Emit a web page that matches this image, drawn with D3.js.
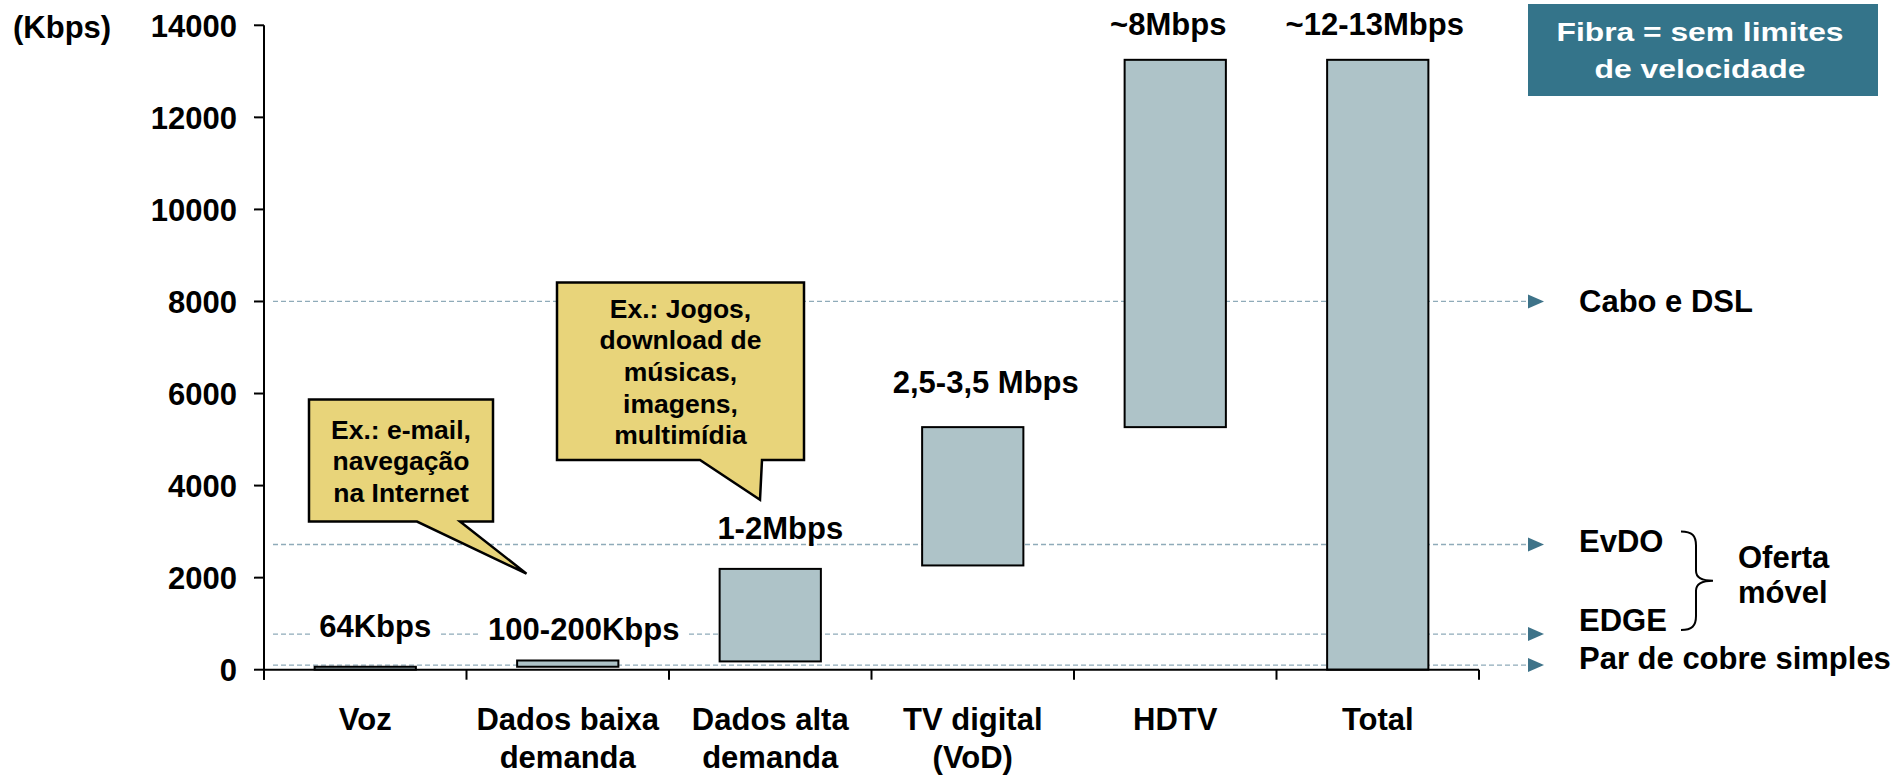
<!DOCTYPE html>
<html>
<head>
<meta charset="utf-8">
<script src="https://cdn.jsdelivr.net/npm/d3@7"></script>
<style>
  html, body { margin: 0; padding: 0; background: #fff; }
  svg { display: block; font-family: "Liberation Sans", Arial, Helvetica, sans-serif; font-weight: bold; }
</style>
</head>
<body>
<svg id="chart" width="1904" height="777"></svg>
<script>
// ---------- data ----------
const categories = ["Voz", "Dados baixa demanda", "Dados alta demanda", "TV digital (VoD)", "HDTV", "Total"];
const categoryLines = [["Voz"], ["Dados baixa", "demanda"], ["Dados alta", "demanda"], ["TV digital", "(VoD)"], ["HDTV"], ["Total"]];
const barStart = [0, 64, 180, 2265, 5270, 0];
const barEnd = [64, 200, 2190, 5270, 13250, 13250];
const valueLabels = ["64Kbps", "100-200Kbps", "1-2Mbps", "2,5-3,5 Mbps", "~8Mbps", "~12-13Mbps"];
const yTicks = [0, 2000, 4000, 6000, 8000, 10000, 12000, 14000];
const refValues = [8000, 2720, 775, 100];
const refLabels = ["Cabo e DSL", "EvDO", "EDGE", "Par de cobre simples"];
const callout1 = ["Ex.: e-mail,", "navegação", "na Internet"];
const callout2 = ["Ex.: Jogos,", "download de", "músicas,", "imagens,", "multimídia"];
const fibraLines = ["Fibra = sem limites", "de velocidade"];
const yUnit = "(Kbps)";
const braceLabel = ["Oferta", "móvel"];

// ---------- layout ----------
const svg = d3.select("#chart");
const x = d3.scaleBand().domain(categories).range([264, 1479]).padding(0);
const y = d3.scaleLinear().domain([0, 14000]).range([669.7, 25.3]);
const bw = x.bandwidth();
const FS = 31;
const barFill = "#aec3c8";
const dashColor = "#8fabb9";
const arrowColor = "#3e7389";

// reference dashed lines with arrows
const refG = svg.append("g");
const lineStart = 273, lineEnd = 1528;
refG.selectAll("line").data(refValues).join("line")
  .attr("x1", lineStart).attr("x2", lineEnd)
  .attr("y1", d => y(d)).attr("y2", d => y(d))
  .attr("stroke", dashColor).attr("stroke-width", 1.3)
  .attr("stroke-dasharray", "5,3");
refG.selectAll("path").data(refValues).join("path")
  .attr("d", d => `M${lineEnd},${y(d) - 7} L${lineEnd + 16},${y(d)} L${lineEnd},${y(d) + 7} Z`)
  .attr("fill", arrowColor);
const refDy = [11, 7, -3, 4];
refG.selectAll("text").data(refLabels).join("text")
  .attr("x", 1579)
  .attr("y", (d, i) => y(refValues[i]) + refDy[i])
  .attr("font-size", FS).attr("fill", "#000")
  .text(d => d);

// brace
const bTop = y(refValues[1]) - 13, bBot = y(refValues[2]) - 4, bMid = (bTop + bBot) / 2;
svg.append("path")
  .attr("d", `M1681,${bTop} C1692,${bTop} 1696,${bTop + 4} 1696,${bTop + 14} L1696,${bMid - 10} C1696,${bMid - 3} 1702,${bMid} 1713,${bMid} C1702,${bMid} 1696,${bMid + 3} 1696,${bMid + 10} L1696,${bBot - 14} C1696,${bBot - 4} 1692,${bBot} 1681,${bBot}`)
  .attr("fill", "none").attr("stroke", "#000").attr("stroke-width", 2);
svg.append("g").selectAll("text").data(braceLabel).join("text")
  .attr("x", 1738).attr("y", (d, i) => 568 + i * 35)
  .attr("font-size", FS).text(d => d);

// value labels (with white backgrounds where they cross lines)
const labelShift = [10, 16, 10, 13, -7, -3];
const labelAbove = [30, 20, 30, 34, 25, 25];
const labG = svg.append("g");
valueLabels.forEach((t, i) => {
  const cx = x(categories[i]) + bw / 2 + labelShift[i];
  const by = y(barEnd[i]) - labelAbove[i];
  const txt = labG.append("text")
    .attr("x", cx).attr("y", by)
    .attr("text-anchor", "middle").attr("font-size", FS).text(t);
  if (i < 2) {
    const bb = txt.node().getBBox();
    labG.insert("rect", "text")
      .attr("x", bb.x - 9).attr("y", bb.y - 2)
      .attr("width", bb.width + 18).attr("height", bb.height + 4)
      .attr("fill", "#fff");
  }
});

// bars
svg.append("g").selectAll("rect").data(categories).join("rect")
  .attr("x", d => x(d) + bw * 0.25)
  .attr("width", bw * 0.5)
  .attr("y", (d, i) => y(barEnd[i]))
  .attr("height", (d, i) => y(barStart[i]) - y(barEnd[i]))
  .attr("fill", barFill).attr("stroke", "#000").attr("stroke-width", 2);

// y axis
const yAxisG = svg.append("g");
yAxisG.append("line").attr("x1", 264).attr("x2", 264)
  .attr("y1", y(14000)).attr("y2", y(0) + 10)
  .attr("stroke", "#000").attr("stroke-width", 2);
yAxisG.selectAll(".tk").data(yTicks).join("line").attr("class", "tk")
  .attr("x1", 254).attr("x2", 264)
  .attr("y1", d => y(d)).attr("y2", d => y(d))
  .attr("stroke", "#000").attr("stroke-width", 2);
yAxisG.selectAll("text").data(yTicks).join("text")
  .attr("x", 237).attr("y", d => y(d) + 11.5)
  .attr("text-anchor", "end").attr("font-size", FS)
  .text(d => d);
svg.append("text").attr("x", 13).attr("y", 37.5).attr("font-size", FS).text(yUnit);

// x axis
const xAxisG = svg.append("g");
xAxisG.append("line").attr("x1", 264).attr("x2", 1479)
  .attr("y1", y(0)).attr("y2", y(0))
  .attr("stroke", "#000").attr("stroke-width", 2);
const bounds = categories.map(c => x(c)).concat([x.range()[1]]);
xAxisG.selectAll(".tk").data(bounds).join("line").attr("class", "tk")
  .attr("x1", d => d).attr("x2", d => d)
  .attr("y1", y(0)).attr("y2", y(0) + 10)
  .attr("stroke", "#000").attr("stroke-width", 2);
categoryLines.forEach((lines, i) => {
  const t = xAxisG.append("text")
    .attr("x", x(categories[i]) + bw / 2).attr("y", 729.5)
    .attr("text-anchor", "middle").attr("font-size", FS);
  lines.forEach((l, j) => {
    t.append("tspan").attr("x", x(categories[i]) + bw / 2)
      .attr("y", 729.5 + j * 38.5).text(l);
  });
});

// callouts
function callout(box, tail, lines, fs, lh, firstBase) {
  const [x0, y0, x1, y1] = box;
  const [ta, tb, tx, ty] = tail;
  const g = svg.append("g");
  g.append("path")
    .attr("d", `M${x0},${y0} L${x1},${y0} L${x1},${y1} L${tb},${y1} L${tx},${ty} L${ta},${y1} L${x0},${y1} Z`)
    .attr("fill", "#e8d47a").attr("stroke", "#000").attr("stroke-width", 2.5)
    .attr("stroke-linejoin", "miter");
  g.selectAll("text").data(lines).join("text")
    .attr("x", (x0 + x1) / 2).attr("y", (d, i) => firstBase + i * lh)
    .attr("text-anchor", "middle").attr("font-size", fs)
    .text(d => d);
}
const c1x = x(categories[0]);
callout([c1x + 45, 399.5, c1x + 229, 521.5], [c1x + 153, c1x + 196, x(categories[1]) + 60, y(2085)], callout1, 26.5, 31.7, 438.5);
const c2x = x(categories[2]);
callout([c2x - 112, 282.5, c2x + 135, 460], [c2x + 31, c2x + 93, c2x + 91, y(3690)], callout2, 26.5, 31.7, 317.5);

// fibra box
const fg = svg.append("g");
fg.append("rect").attr("x", 1528).attr("y", 4).attr("width", 350).attr("height", 92)
  .attr("fill", "#34748a");
const fibraW = [287, 211];
fg.selectAll("text").data(fibraLines).join("text")
  .attr("x", 1700).attr("y", (d, i) => 40.5 + i * 37)
  .attr("text-anchor", "middle").attr("font-size", 25.5).attr("fill", "#fff")
  .attr("textLength", (d, i) => fibraW[i]).attr("lengthAdjust", "spacingAndGlyphs")
  .text(d => d);
</script>
</body>
</html>
